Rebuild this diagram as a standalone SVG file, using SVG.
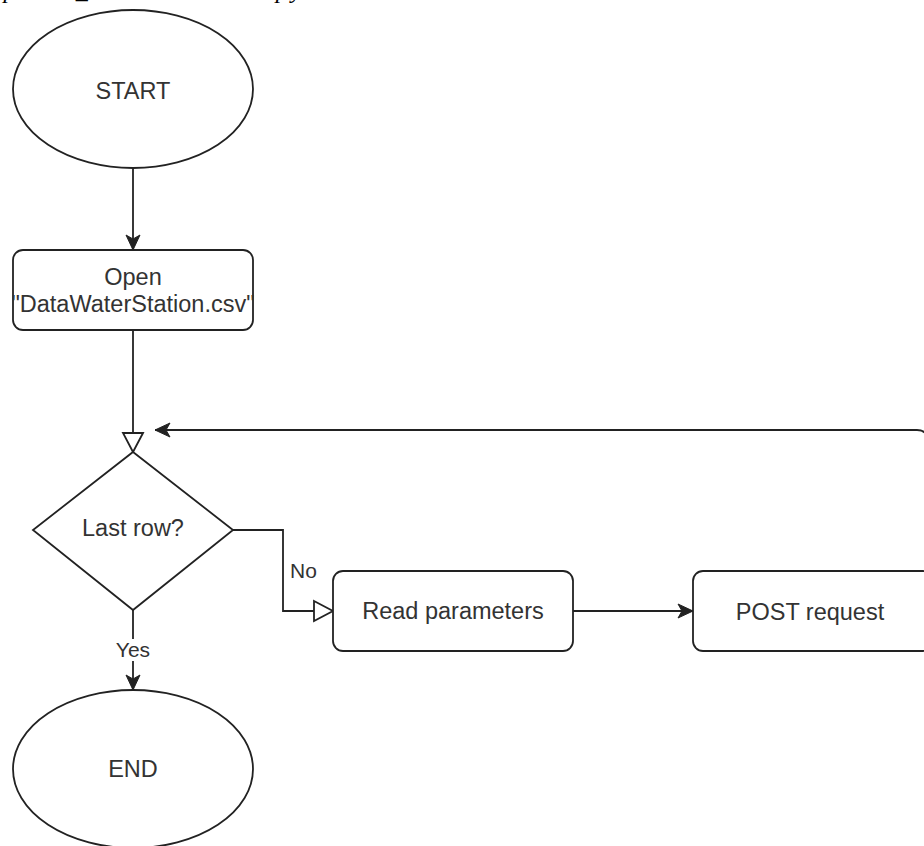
<svg xmlns="http://www.w3.org/2000/svg" width="924" height="846" viewBox="0 0 924 846">
  <style>
    .shape { fill: #ffffff; stroke: #222222; stroke-width: 1.8; }
    .edge { fill: none; stroke: #222222; stroke-width: 1.8; }
    .lbl { font-family: "Liberation Sans", Arial, sans-serif; font-size: 23.5px; fill: #333333; text-anchor: middle; }
    .elbl { font-family: "Liberation Sans", Arial, sans-serif; font-size: 21px; fill: #333333; text-anchor: middle; }
    .title { font-family: "Liberation Serif", "Times New Roman", serif; font-style: italic; font-size: 24px; fill: #000000; }
  </style>
  <defs>
    <marker id="arrowFilled" markerUnits="userSpaceOnUse" markerWidth="16" markerHeight="16" refX="15" refY="7" orient="auto" overflow="visible">
      <path d="M0,0 L15,7 L0,14 L4,7 Z" fill="#222222" stroke="#222222" stroke-width="1"/>
    </marker>
    <marker id="arrowHollow" markerUnits="userSpaceOnUse" markerWidth="22" markerHeight="22" refX="20" refY="10" orient="auto" overflow="visible">
      <path d="M1,0 L20,10 L1,20 Z" fill="#ffffff" stroke="#222222" stroke-width="1.8"/>
    </marker>
  </defs>
  <rect x="0" y="0" width="924" height="846" fill="#ffffff"/>

  <text class="title" x="-12" y="-2" textLength="314" lengthAdjust="spacing">upload_waterstations.py</text>

  <g id="connectors">
    <path class="edge" d="M133 168 L133 250" marker-end="url(#arrowFilled)"/>
    <path class="edge" d="M133 330 L133 452" marker-end="url(#arrowHollow)"/>
    <path class="edge" d="M233 530 L283 530 L283 611 L333 611" marker-end="url(#arrowHollow)"/>
    <path class="edge" d="M133 610 L133 690" marker-end="url(#arrowFilled)"/>
    <path class="edge" d="M573 611 L693 611" marker-end="url(#arrowFilled)"/>
    <path class="edge" d="M927 571 L927 440 Q927 430 917 430 L155 430" marker-end="url(#arrowFilled)"/>
    <g id="label-no">
      <text class="elbl" x="303.5" y="578">No</text>
    </g>
    <g id="label-yes">
      <rect x="113" y="639" width="40" height="22" fill="#ffffff"/>
      <text class="elbl" x="133" y="657">Yes</text>
    </g>
  </g>

  <g id="node-start">
    <ellipse class="shape" cx="133" cy="89" rx="120" ry="79"/>
    <text class="lbl" x="133" y="99">START</text>
  </g>

  <g id="node-open">
    <rect class="shape" x="13" y="250" width="240" height="80" rx="10" ry="10"/>
    <text class="lbl" x="133" y="285">Open</text>
    <text class="lbl" x="133" y="312">"DataWaterStation.csv"</text>
  </g>

  <g id="node-lastrow">
    <path class="shape" d="M133 452 L233 530 L133 610 L33 530 Z"/>
    <text class="lbl" x="133" y="536">Last row?</text>
  </g>

  <g id="node-read">
    <rect class="shape" x="333" y="571" width="240" height="80" rx="10" ry="10"/>
    <text class="lbl" x="453" y="619">Read parameters</text>
  </g>

  <g id="node-post">
    <rect class="shape" x="693" y="571" width="240" height="80" rx="10" ry="10"/>
    <text class="lbl" x="810" y="620">POST request</text>
  </g>

  <g id="node-end">
    <ellipse class="shape" cx="133" cy="769" rx="120" ry="79"/>
    <text class="lbl" x="133" y="777">END</text>
  </g>
</svg>
